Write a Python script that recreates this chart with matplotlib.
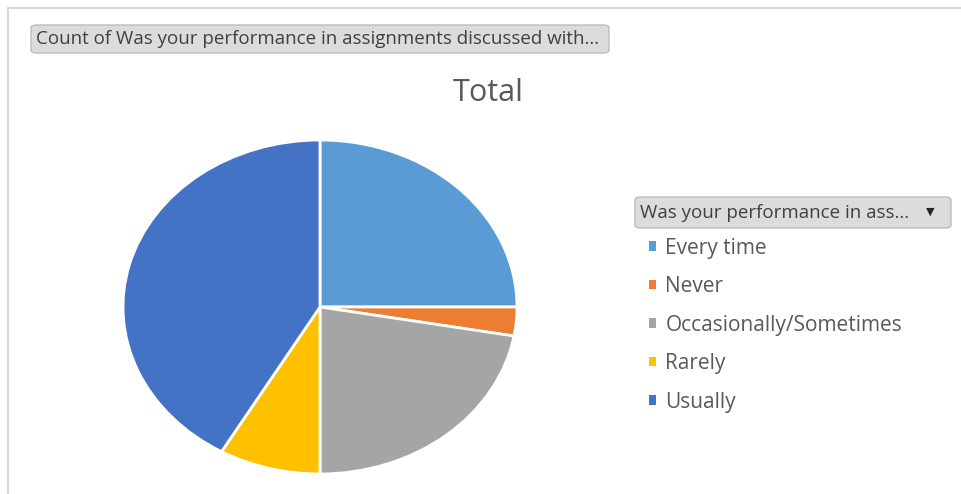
import matplotlib
matplotlib.use("Agg")
import matplotlib.pyplot as plt
from matplotlib.patches import FancyBboxPatch
from matplotlib.lines import Line2D

labels = ["Every time", "Never", "Occasionally/Sometimes", "Rarely", "Usually"]
counts = [9, 1, 8, 3, 15]
colors = ["#5B9BD5", "#ED7D31", "#A5A5A5", "#FFC000", "#4472C4"]

field_label = "Count of Was your performance in assignments discussed with..."
legend_title = "Was your performance in ass..."
chart_title = "Total"

W, H = 962, 494
plt.rcParams["font.family"] = ["Open Sans", "DejaVu Sans"]
fig = plt.figure(figsize=(W / 100, H / 100), dpi=100)
fig.patch.set_facecolor("white")


def fx(px):
    return px / W


def fy(py):
    return 1 - py / H


# thin frame on the left and top edges
fig.add_artist(Line2D([fx(8), fx(8)], [0, fy(8)], color="#d9d9d9", lw=1.5))
fig.add_artist(Line2D([fx(8), 1], [fy(8), fy(8)], color="#d9d9d9", lw=1.5))

# pie (stretched horizontally like the source)
cx, cy, rx, ry = 320, 307, 197, 167
ax = fig.add_axes([fx(cx - rx), fy(cy + ry), 2 * rx / W, 2 * ry / H])
wedges, _ = ax.pie(counts, colors=colors, startangle=90, counterclock=False,
                   wedgeprops=dict(edgecolor="white", linewidth=2))
ax.set_aspect("auto")
ax.set_xlim(-1.0, 1.0)
ax.set_ylim(-1.0, 1.0)

fig.text(fx(488), fy(93), chart_title, ha="center", va="center",
         fontsize=22, color="#595959")

# field button at the top
fig.add_artist(FancyBboxPatch((fx(31), fy(53)), fx(578), 28 / H,
                              boxstyle="round,pad=0,rounding_size=0.006",
                              fc="#dcdcdc", ec="#bcbcbc", lw=1))
fig.text(fx(36), fy(39), field_label, ha="left", va="center",
         fontsize=13.5, color="#404040")

# legend dropdown
fig.add_artist(FancyBboxPatch((fx(635), fy(228)), fx(316), 31 / H,
                              boxstyle="round,pad=0,rounding_size=0.006",
                              fc="#dcdcdc", ec="#bcbcbc", lw=1))
fig.text(fx(640), fy(213), legend_title, ha="left", va="center",
         fontsize=13.5, color="#404040")
fig.text(fx(930), fy(212), "\u25BC", ha="center", va="center",
         fontsize=8, color="#262626", family="DejaVu Sans")

leg = fig.legend(wedges, labels, loc="upper left",
                 bbox_to_anchor=(fx(649), fy(237.5)), frameon=False,
                 borderpad=0, borderaxespad=0,
                 fontsize=15, handlelength=0.34, handleheight=0.34,
                 handletextpad=0.45, labelspacing=0.84, labelcolor="#595959")
for h in leg.legend_handles:
    h.set_edgecolor("none")

fig.savefig("out.png", dpi=100)
